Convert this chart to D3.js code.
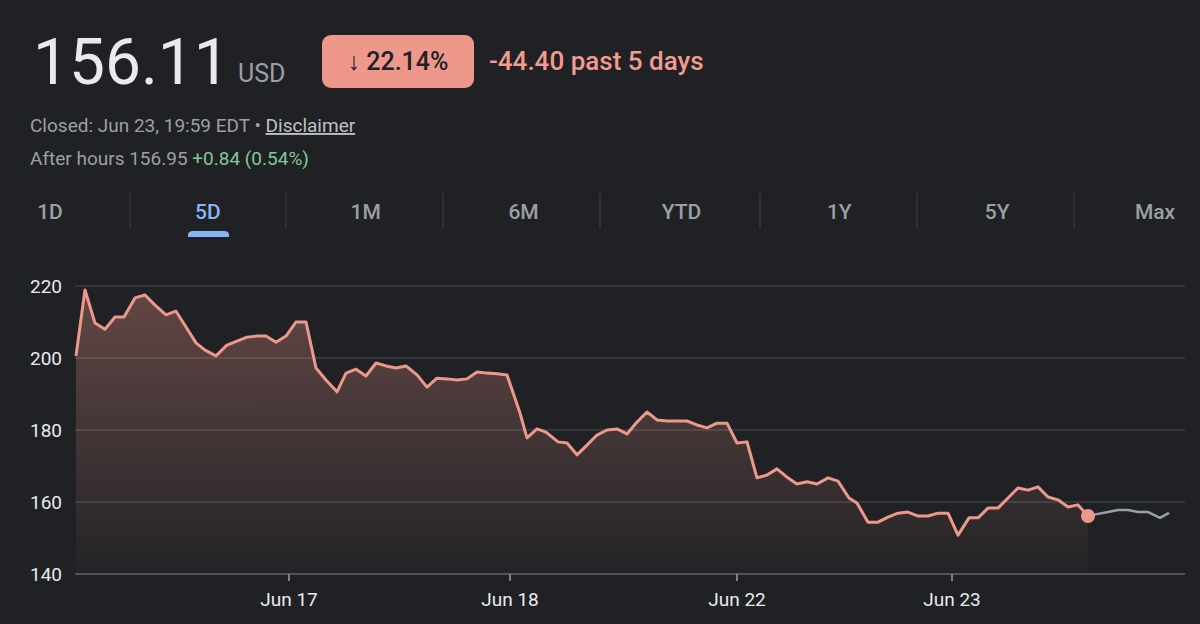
<!DOCTYPE html>
<html><head><meta charset="utf-8">
<script src="https://cdn.jsdelivr.net/npm/d3@7"></script>
<style>body{margin:0;background:#202124;font-family:Roboto,"Noto Sans",sans-serif}</style>
</head><body><svg id="c" width="1200" height="624"></svg>
<script>
// time position (1 day = 221 units), price
const closeT = [8,17,27,37,47,56,67,77,87,98,108,118,128,137,148,159,169,179,189,198,208,218,228,238,248,258,269,278,288,298,308,318,328,338,349,359,369,379,389,399,409,419,429,439,452,459,469,478,490,499,509,519,529,539,549,559,569,579,589,599,609,619,629,639,649,659,669,679,689,699,709,719,729,739,749,760,770,781,789,800,810,820,830,840,850,860,870,880,890,901,910,920,930,940,950,960,970,980,990,1000,1010,1020];
const closeV = [200.6,218.9,209.7,208,211.4,211.4,216.7,217.5,214.7,212,213,208.6,204.2,202.2,200.6,203.6,204.7,205.8,206.1,206.1,204.4,206.1,210,210,197.2,193.9,190.6,195.8,196.9,195,198.6,197.8,197.2,197.8,195.3,191.9,194.4,194.2,193.9,194.2,196.1,195.8,195.6,195.3,184.7,177.8,180.3,179.4,176.7,176.4,173.1,175.8,178.6,180,180.3,178.9,182.2,185,182.8,182.5,182.5,182.5,181.4,180.6,181.9,181.9,176.4,176.7,166.7,167.5,169.2,166.9,165,165.6,165,166.7,165.8,161.1,159.7,154.4,154.4,155.8,156.9,157.2,156.1,156.1,156.9,156.9,150.8,155.6,155.6,158.3,158.3,161.1,163.9,163.3,164.2,161.4,160.6,158.6,159.2,156.1];
const afterT = [1020,1030,1040,1050,1060,1070,1080,1092,1101];
const afterV = [156.1,156.7,157.2,157.8,157.8,157.2,157.2,155.6,157];
const dayTicks = [221,442,669,884];
const dayLabels = ["Jun 17","Jun 18","Jun 22","Jun 23"];
const yTicks = [140,160,180,200,220];
const tabs = ["1D","5D","1M","6M","YTD","1Y","5Y","Max"];

const svg = d3.select("#c");
svg.append("rect").attr("width",1200).attr("height",624).attr("fill","#202124");
// header
svg.append("text").attr("x",33).attr("y",84).attr("fill","#e8eaed").attr("font-size",64).text("156.11");
svg.append("text").attr("x",238).attr("y",82).attr("fill","#9aa0a6").attr("font-size",25).text("USD");
svg.append("rect").attr("x",322).attr("y",35).attr("width",152).attr("height",53).attr("rx",9).attr("fill","#ee988c");
svg.append("text").attr("x",398).attr("y",70).attr("text-anchor","middle").attr("fill","#202124").attr("font-size",25).attr("font-weight",500).text("↓ 22.14%");
svg.append("text").attr("x",489).attr("y",70).attr("fill","#f29b8f").attr("font-size",26).attr("font-weight",500).text("-44.40 past 5 days");
const l1 = svg.append("text").attr("x",30).attr("y",132).attr("fill","#9aa0a6").attr("font-size",19);
l1.append("tspan").text("Closed: Jun 23, 19:59 EDT • ");
l1.append("tspan").attr("fill","#bdc1c6").attr("text-decoration","underline").text("Disclaimer");
const l2 = svg.append("text").attr("x",30).attr("y",165).attr("fill","#9aa0a6").attr("font-size",19);
l2.append("tspan").text("After hours 156.95 ");
l2.append("tspan").attr("fill","#81c995").text("+0.84 (0.54%)");
// tabs
const tabX = d3.scalePoint().domain(tabs).range([50,1155]);
const sepX = [130,286,443,600,760,917,1074];
tabs.forEach((t,i)=>{
  svg.append("text").attr("x",tabX(t)).attr("y",219).attr("text-anchor","middle")
    .attr("fill", t=="5D"?"#8ab4f8":"#9aa0a6").attr("font-size",21).attr("font-weight",500).text(t);
});
sepX.forEach(sx=>svg.append("line").attr("x1",sx).attr("x2",sx).attr("y1",193).attr("y2",228).attr("stroke","#3c4043"));
svg.append("path").attr("d","M188,237 L188,235 Q188,231 193,231 L224,231 Q229,231 229,235 L229,237 Z").attr("fill","#8ab4f8");

// chart
const x = d3.scaleLinear().domain([7,1102]).range([75,1170]);
const y = d3.scaleLinear().domain([140,220]).range([574,286]);
yTicks.forEach(v=>{
  svg.append("line").attr("x1",75).attr("x2",1185).attr("y1",y(v)).attr("y2",y(v))
    .attr("stroke", v==140?"#5f6368":"#3c4043").attr("stroke-width",1.5);
  svg.append("text").attr("x",30).attr("y",y(v)+7).attr("fill","#e8eaed").attr("font-size",19).text(v);
});
const grad = svg.append("defs").append("linearGradient").attr("id","g").attr("x1",0).attr("x2",0).attr("y1",0).attr("y2",1);
grad.append("stop").attr("offset","0%").attr("stop-color","#ee988c").attr("stop-opacity",0.32);
grad.append("stop").attr("offset","100%").attr("stop-color","#ee988c").attr("stop-opacity",0.02);
const pts = closeT.map((t,i)=>[t,closeV[i]]);
svg.append("path").datum(pts).attr("fill","url(#g)")
  .attr("d",d3.area().x(d=>x(d[0])).y0(y(140)).y1(d=>y(d[1])));
svg.append("path").datum(pts).attr("fill","none").attr("stroke","#ee988c").attr("stroke-width",3).attr("stroke-linejoin","round")
  .attr("d",d3.line().x(d=>x(d[0])).y(d=>y(d[1])));
svg.append("path").datum(afterT.map((t,i)=>[t,afterV[i]])).attr("fill","none").attr("stroke","#9aa0a6").attr("stroke-width",2.5)
  .attr("d",d3.line().x(d=>x(d[0])).y(d=>y(d[1])));
svg.append("circle").attr("cx",x(closeT[closeT.length-1])).attr("cy",y(closeV[closeV.length-1])).attr("r",7).attr("fill","#ee988c");
dayTicks.forEach((t,i)=>{
  svg.append("line").attr("x1",x(t)).attr("x2",x(t)).attr("y1",574).attr("y2",581).attr("stroke","#9aa0a6").attr("stroke-width",1.5);
  svg.append("text").attr("x",x(t)).attr("y",606).attr("text-anchor","middle").attr("fill","#e8eaed").attr("font-size",19).text(dayLabels[i]);
});
</script></body></html>
